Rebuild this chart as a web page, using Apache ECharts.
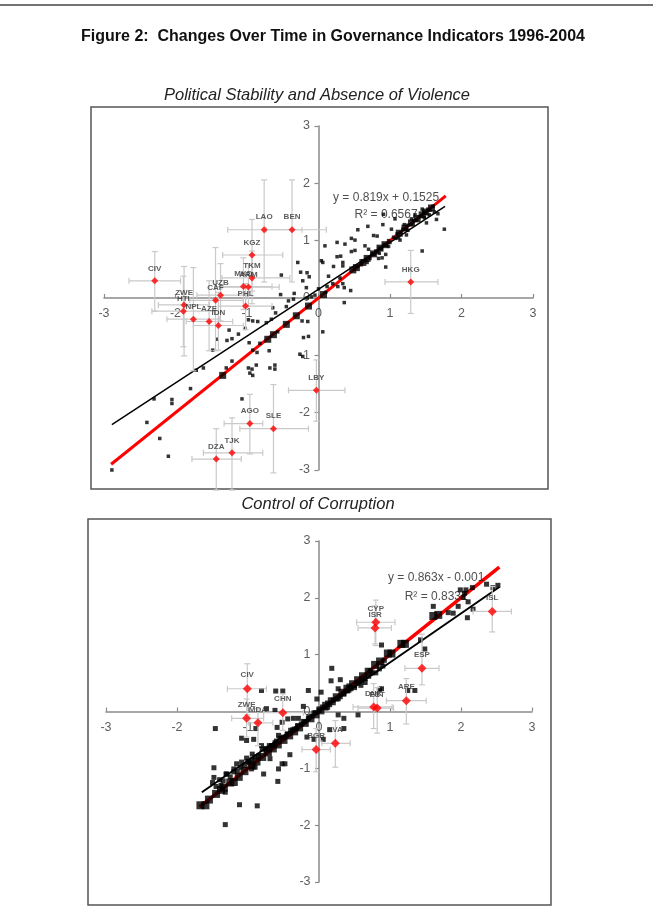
<!DOCTYPE html>
<html>
<head>
<meta charset="utf-8">
<script src="https://cdn.jsdelivr.net/npm/echarts@6/dist/echarts.min.js"></script>
<style>
  html, body { margin: 0; padding: 0; background: #fff; }
  #chart { width: 653px; height: 924px; }
</style>
</head>
<body>
<div id="chart"></div>
<script>
// ---- shared tick labels (axes cross at zero) ----
var tickValues = [-3, -2, -1, 0, 1, 2, 3];
var tickLabels = ['-3', '-2', '-1', '0', '1', '2', '3'];

// ---- data: Political Stability and Absence of Violence (x = 1996, y = 2004) ----
var psSmall = [
  [-2.89,-3.00],[-2.40,-2.17],[-2.22,-2.45],[-2.10,-2.76],[-2.30,-1.76],[-2.05,-1.77],[-2.05,-1.84],
  [-1.79,-1.58],[-1.71,-1.26],[-1.61,-1.22],[-1.48,-0.91],[-1.42,-0.72],[-1.28,-0.74],[-1.21,-0.71],
  [-1.25,-0.56],[-1.29,-1.22],[-1.21,-1.10],[-1.07,-1.76],[-1.12,-0.63],[-1.03,-0.53],[-0.98,-0.38],
  [-0.92,-0.40],[-0.85,-0.41],[-0.97,-0.78],[-0.92,-0.91],[-0.86,-0.95],[-0.98,-1.22],[-0.93,-1.24],
  [-0.96,-1.31],[-0.92,-1.35],[-0.87,-1.17],[-0.82,-0.79],[-0.69,-0.92],[-0.68,-1.22],[-0.61,-1.17],
  [-0.61,-1.24],[-0.73,-0.43],[-0.66,-0.37],[-0.64,-0.17],[-0.60,-0.26],[-0.57,-0.59],[-0.53,0.06],
  [-0.52,0.40],[-0.42,-0.05],[-0.34,0.08],[-0.29,0.62],[-0.25,0.45],[-0.16,0.44],[-0.13,0.37],
  [-0.22,0.30],[-0.17,0.18],[-0.16,0.00],[-0.23,-0.40],[-0.15,-0.41],[-0.21,-0.69],[-0.14,-0.67],
  [-0.26,-0.98],[-0.22,-1.02],[0.00,0.16],[0.04,0.65],[0.06,0.62],[0.06,-0.59],[0.09,0.91],[0.14,0.38],
  [0.21,0.55],[0.26,0.72],[0.31,0.73],[0.26,0.97],[0.34,0.62],[0.34,0.56],[0.37,0.94],[0.36,-0.08],
  [0.27,0.20],[0.34,0.25],[0.36,0.18],[0.45,0.13],[0.46,1.04],[0.51,1.01],[0.46,0.81],[0.51,0.83],
  [0.65,0.91],[0.70,0.85],[0.55,1.19],[0.69,1.25],[0.77,1.09],[0.82,1.08],[0.90,1.28],[0.91,1.46],
  [1.02,1.20],[1.07,1.38],[0.94,0.54],[0.94,0.76],[0.84,0.69],[0.89,0.70],[1.14,1.01],[1.23,1.10],
  [1.45,0.82],[1.65,1.37],[1.67,1.47],[1.76,1.20],[1.51,1.31],
  [0.55,0.55],[0.60,0.58],[0.62,0.64],[0.66,0.66],[0.72,0.69],[0.75,0.77],[0.78,0.76],[0.80,0.82],
  [0.83,0.80],[0.85,0.87],[0.88,0.86],[0.92,0.93],[0.95,0.92],[0.98,1.00],[1.00,0.97],[1.05,1.06],
  [1.08,1.04],[1.10,1.12],[1.15,1.14],[1.18,1.20],[1.22,1.20],[1.25,1.27],[1.30,1.28],[1.33,1.35],
  [1.37,1.36],[1.40,1.42],[1.44,1.43],[1.47,1.50],[1.50,1.48],[1.53,1.55],[1.56,1.53],[1.60,1.60],
  [1.45,1.55],[1.55,1.45],[1.35,1.45],[1.25,1.18],[1.12,1.05],[0.98,0.90],[0.85,0.78],[0.68,0.62],
  [1.30,1.38],[1.48,1.40],[1.62,1.50],[1.20,1.28],[0.30,0.35],[0.20,0.25],[0.12,0.20],[0.10,0.10],
  [-0.05,0.05],[-0.10,0.02],[-0.35,-0.02],[-0.45,-0.15]
];
var psBig = [
  [-1.34,-1.35],[-0.71,-0.72],[-0.63,-0.64],[-0.45,-0.46],[-0.31,-0.31],[-0.14,-0.14],[0.07,0.06],
  [0.48,0.49],[0.53,0.53],[0.62,0.62],[0.68,0.69],[0.77,0.77],[0.86,0.87],[0.93,0.93],[1.13,1.13],
  [1.21,1.22],[1.30,1.31],[1.38,1.38],[1.45,1.45],[1.50,1.50],[1.58,1.57]
];
// name, x, y, x low, x high, y low, y high
var psMarked = [
  ['CIV', -2.29, 0.30, -2.65, -1.93, -0.23, 0.81],
  ['ZWE', -1.88, -0.12, -2.24, -1.53, -1.01, 0.55],
  ['HTI', -1.89, -0.23, -2.33, -1.45, -0.85, 0.38],
  ['NPL', -1.75, -0.37, -2.12, -1.38, -1.27, 0.53],
  ['AZE', -1.53, -0.41, -1.85, -1.20, -0.92, 0.30],
  ['IDN', -1.40, -0.48, -1.75, -1.05, -0.91, 0.10],
  ['CAF', -1.44, -0.04, -1.80, -1.05, -0.92, 0.88],
  ['UZB', -1.37, 0.05, -1.70, -1.00, -0.40, 0.60],
  ['PHL', -1.02, -0.14, -1.40, -0.65, -0.55, 0.25],
  ['MKD', -1.05, 0.20, -1.45, -0.65, -0.20, 0.70],
  ['ARM', -0.98, 0.19, -1.35, -0.55, -0.15, 0.60],
  ['TKM', -0.93, 0.35, -1.35, -0.40, -0.10, 0.82],
  ['KGZ', -0.93, 0.75, -1.34, -0.50, 0.12, 1.37],
  ['LAO', -0.76, 1.19, -1.27, -0.23, 0.28, 2.06],
  ['BEN', -0.37, 1.19, -0.73, 0.11, 0.28, 2.06],
  ['HKG', 1.29, 0.28, 0.93, 1.67, -0.27, 0.83],
  ['LBY', -0.03, -1.61, -0.42, 0.37, -2.15, -1.08],
  ['AGO', -0.96, -2.19, -1.32, -0.78, -2.72, -1.68],
  ['SLE', -0.63, -2.28, -1.10, -0.14, -3.05, -1.51],
  ['TJK', -1.21, -2.70, -1.61, -0.78, -3.35, -2.09],
  ['DZA', -1.43, -2.81, -1.77, -1.08, -3.35, -2.28]
];
var psFit = [[-2.89, -2.21], [1.77, 1.60]];
var psDiag = [[-2.90, -2.90], [1.78, 1.78]];
var psEqPos = [0.945, 1.60];
var psEqText = 'y = 0.819x + 0.1525\nR² = 0.6567';

// ---- data: Control of Corruption ----
var ccSmall = [
  [-1.32,-1.99],[-1.12,-1.64],[-0.87,-1.66],[-1.48,-0.99],[-1.48,-1.16],[-1.46,-0.30],[-1.32,-1.42],
  [-1.31,-1.10],[-1.20,-1.01],[-1.16,-0.92],[-1.09,-0.89],[-1.02,-0.82],[-0.94,-0.75],[-1.09,-0.47],
  [-1.02,-0.51],[-0.92,-0.49],[-0.89,-0.30],[-0.95,-1.01],[-0.90,-0.98],[-0.78,-1.10],[-0.81,0.37],
  [-0.74,0.05],[-0.61,0.36],[-0.51,0.36],[-0.62,0.02],[-0.59,-0.28],[-0.52,-0.19],[-0.57,-0.42],
  [-0.57,-1.01],[-0.58,-1.23],[-0.52,-0.92],[-0.48,-0.92],[-0.41,-0.76],[-0.67,-0.60],[-0.74,-0.65],
  [-0.81,-0.60],[-0.69,-0.83],[-0.44,-0.13],[-0.36,-0.12],[-0.29,-0.12],[-0.22,0.09],[-0.15,0.37],
  [-0.03,0.22],[0.03,0.34],[-0.17,-0.45],[-0.07,-0.49],[0.06,-0.49],[0.15,-0.32],[0.35,-0.30],
  [0.27,-0.06],[0.35,-0.12],[0.17,0.54],[0.18,0.76],[0.30,0.56],[0.27,0.40],[0.55,-0.06],[0.59,0.46],
  [0.65,0.51],[0.88,1.17],[0.85,0.39],[0.88,0.40],[1.25,0.37],[1.35,0.37],[1.49,1.10],[1.43,1.26],
  [1.61,1.85],[1.82,1.74],[1.89,1.73],[1.99,2.14],[2.07,2.14],[2.16,2.18],[2.03,2.01],[2.05,2.08],
  [2.10,1.93],[2.09,1.65],[2.17,1.80],[2.36,2.24],[2.45,2.18],[2.52,2.22],[1.96,1.85],
  [-1.50,-1.25],[-1.40,-1.20],[-1.30,-1.10],[-1.10,-0.98],[-1.00,-0.88],[-0.90,-0.80],[-0.80,-0.66],
  [-0.70,-0.60],[-0.60,-0.52],[-0.50,-0.45],[-0.40,-0.33],[-0.30,-0.25],[-0.20,-0.18],[-0.10,-0.08],
  [0.00,0.02],[0.10,0.06],[0.20,0.20],[0.30,0.26],[0.40,0.36],[0.50,0.42],[0.60,0.55],[0.70,0.62],
  [0.80,0.68],[0.90,0.80],[-1.20,-1.06],[-0.95,-0.85],[-0.75,-0.68],[-0.55,-0.47],[-0.35,-0.31],
  [-0.15,-0.12],[0.05,0.08],[0.25,0.22],[0.45,0.40],[0.65,0.58],
  [-1.45,-1.32],[-1.35,-1.22],[-1.25,-1.15],[-1.15,-1.05],[-1.05,-0.95],[-0.85,-0.78],[-0.65,-0.60],
  [-0.45,-0.40],[-0.25,-0.22],[-0.05,-0.02],[0.15,0.12],[0.35,0.32],[0.55,0.50],[0.75,0.68],
  [0.85,0.75],[-1.38,-1.30],[-0.98,-0.90],[-0.62,-0.55],[-0.32,-0.30],[0.12,0.15],[0.42,0.45],
  [0.72,0.72],[0.92,0.90]
];
var ccBig = [
  [-1.67,-1.65],[-1.60,-1.65],[-1.55,-1.55],[-1.45,-1.45],[-1.38,-1.38],[-1.34,-1.34],[-1.25,-1.25],
  [-1.20,-1.24],[-1.13,-1.15],[-1.05,-1.05],[-0.95,-0.95],[-0.88,-0.88],[-0.80,-0.80],[-0.72,-0.72],
  [-0.65,-0.65],[-0.58,-0.58],[-0.50,-0.50],[-0.42,-0.42],[-0.35,-0.35],[-0.28,-0.28],[-0.20,-0.20],
  [-0.12,-0.12],[-0.05,-0.05],[0.02,0.02],[0.10,0.10],[0.18,0.18],[0.25,0.25],[0.33,0.33],[0.40,0.40],
  [0.48,0.48],[0.55,0.55],[0.62,0.62],[0.70,0.70],[0.79,0.82],[0.86,0.88],[0.97,1.02],[1.02,1.02],
  [1.16,1.19],[1.21,1.19],[1.61,1.68],[1.68,1.70]
];
var ccMarked = [
  ['CIV', -1.01, 0.40, -1.29, -0.74, -0.06, 0.84],
  ['ZWE', -1.02, -0.12, -1.23, -0.78, -0.45, 0.22],
  ['MDA', -0.86, -0.20, -0.99, -0.65, -0.60, 0.05],
  ['CHN', -0.51, -0.02, -0.78, -0.22, -0.33, 0.31],
  ['BGR', -0.04, -0.67, -0.24, 0.16, -1.06, -0.30],
  ['LVA', 0.23, -0.56, 0.04, 0.44, -0.98, -0.16],
  ['CYP', 0.80, 1.57, 0.53, 1.07, 1.16, 1.96],
  ['ISR', 0.79, 1.47, 0.55, 1.02, 1.19, 1.86],
  ['ESP', 1.45, 0.76, 1.21, 1.69, 0.47, 1.36],
  ['ARE', 1.23, 0.19, 0.95, 1.51, -0.22, 0.58],
  ['DNK', 0.77, 0.08, 0.48, 1.03, -0.30, 0.49],
  ['EST', 0.82, 0.06, 0.55, 1.05, -0.38, 0.42],
  ['ISL', 2.44, 1.76, 2.17, 2.71, 1.40, 2.20]
];
var ccFit = [[-1.65, -1.42], [2.54, 2.19]];
var ccDiag = [[-1.68, -1.68], [2.54, 2.54]];
var ccEqPos = [1.65, 2.18];
var ccEqText = 'y = 0.863x - 0.001\nR² = 0.8331';

var FONT = '"Liberation Sans", Arial, sans-serif';

function axis(gi, isX) {
  return {
    gridIndex: gi, type: 'value', min: -3, max: 3, interval: 1,
    axisLine: { onZero: true, lineStyle: { color: '#8a8a8a', width: 1.5 } },
    axisTick: { inside: isX, length: 4, lineStyle: { color: '#8a8a8a', width: 1.2 } },
    axisLabel: { show: false },
    splitLine: { show: false }
  };
}

// tick labels placed on the zero-crossing axes
function tickText(gi, isX) {
  return {
    type: 'scatter', xAxisIndex: gi, yAxisIndex: gi, symbolSize: 1, z: 1, silent: true,
    itemStyle: { color: 'transparent' },
    data: tickValues.map(function (v, i) {
      return { name: tickLabels[i], value: isX ? [v, 0] : [0, v] };
    }),
    label: { show: true, position: isX ? 'bottom' : 'left', distance: isX ? 9 : 8,
      formatter: '{b}', color: '#333', fontSize: 12.5, fontFamily: FONT }
  };
}

function errorBars(gi, rows) {
  return {
    type: 'custom', xAxisIndex: gi, yAxisIndex: gi, clip: false, z: 4,
    data: rows.map(function (r) { return r.slice(1); }),
    encode: { x: 0, y: 1 },
    renderItem: function (params, api) {
      var x = api.value(0), y = api.value(1);
      var l = api.coord([api.value(2), y]), h = api.coord([api.value(3), y]);
      var b = api.coord([x, api.value(4)]), t = api.coord([x, api.value(5)]);
      var st = { stroke: '#c9c9c9', lineWidth: 1.2 };
      var cap = 3;
      function ln(x1, y1, x2, y2) { return { type: 'line', shape: { x1: x1, y1: y1, x2: x2, y2: y2 }, style: st }; }
      return { type: 'group', children: [
        ln(l[0], l[1], h[0], h[1]), ln(l[0], l[1] - cap, l[0], l[1] + cap), ln(h[0], h[1] - cap, h[0], h[1] + cap),
        ln(b[0], b[1], t[0], t[1]), ln(b[0] - cap, b[1], b[0] + cap, b[1]), ln(t[0] - cap, t[1], t[0] + cap, t[1])
      ] };
    }
  };
}

function panel(gi, small, big, marked, fit, diag, eqPos, eqText, sizes) {
  return [
    tickText(gi, true),
    tickText(gi, false),
    { type: 'line', xAxisIndex: gi, yAxisIndex: gi, data: diag, symbol: 'none', z: 1,
      lineStyle: { color: '#ff0000', width: sizes.diag } },
    { type: 'scatter', xAxisIndex: gi, yAxisIndex: gi, data: [eqPos], symbolSize: 1, z: 1,
      itemStyle: { color: 'transparent' },
      label: { show: true, position: 'inside', formatter: eqText, color: '#222', fontSize: 12,
        fontFamily: FONT, lineHeight: sizes.eqLine, align: 'center' } },
    { type: 'scatter', xAxisIndex: gi, yAxisIndex: gi, data: small, symbol: 'rect',
      symbolSize: sizes.small, itemStyle: { color: '#000' }, z: 2 },
    { type: 'scatter', xAxisIndex: gi, yAxisIndex: gi, data: big, symbol: 'rect',
      symbolSize: sizes.big, itemStyle: { color: '#000' }, z: 2 },
    { type: 'line', xAxisIndex: gi, yAxisIndex: gi, data: fit, symbol: 'none', z: 3,
      lineStyle: { color: '#000', width: sizes.fit } },
    errorBars(gi, marked),
    { type: 'scatter', xAxisIndex: gi, yAxisIndex: gi, symbol: 'diamond', symbolSize: sizes.red, z: 5,
      itemStyle: { color: '#ff0000' },
      data: marked.map(function (r) { return { name: r[0], value: [r[1], r[2]] }; }),
      label: { show: true, position: 'top', distance: 5, formatter: '{b}', color: '#333',
        fontSize: 8, fontWeight: 'bold', fontFamily: FONT } }
  ];
}

var chart = echarts.init(document.getElementById('chart'), null, { renderer: 'canvas' });
chart.setOption({
  animation: false,
  backgroundColor: '#fff',
  grid: [
    { left: 104, top: 126, width: 429, height: 344 },
    { left: 106, top: 541, width: 426, height: 341 }
  ],
  xAxis: [axis(0, true), axis(1, true)],
  yAxis: [axis(0, false), axis(1, false)],
  graphic: [
    { type: 'line', shape: { x1: 0, y1: 5, x2: 653, y2: 5 }, style: { stroke: '#444', lineWidth: 1.5 } },
    { type: 'text', x: 333, y: 37, style: { text: 'Figure 2:  Changes Over Time in Governance Indicators 1996-2004',
      align: 'center', verticalAlign: 'middle', fill: '#111', font: 'bold 16px ' + FONT } },
    { type: 'text', x: 317, y: 95, style: { text: 'Political Stability and Absence of Violence',
      align: 'center', verticalAlign: 'middle', fill: '#222', font: 'italic 16.5px ' + FONT } },
    { type: 'text', x: 318, y: 504, style: { text: 'Control of Corruption',
      align: 'center', verticalAlign: 'middle', fill: '#222', font: 'italic 16.5px ' + FONT } },
    { type: 'rect', shape: { x: 91, y: 107, width: 457, height: 382 }, style: { fill: 'none', stroke: '#555', lineWidth: 1.5 }, z: -1 },
    { type: 'rect', shape: { x: 88, y: 519, width: 463, height: 386 }, style: { fill: 'none', stroke: '#555', lineWidth: 1.5 }, z: -1 }
  ],
  series: [].concat(
    panel(0, psSmall, psBig, psMarked, psFit, psDiag, psEqPos, psEqText,
      { diag: 3, fit: 1.5, small: 3.5, big: 7, red: 7, eqLine: 17 }),
    panel(1, ccSmall, ccBig, ccMarked, ccFit, ccDiag, ccEqPos, ccEqText,
      { diag: 3.5, fit: 2, small: 5, big: 8, red: 9, eqLine: 19 })
  )
});
</script>
</body>
</html>
